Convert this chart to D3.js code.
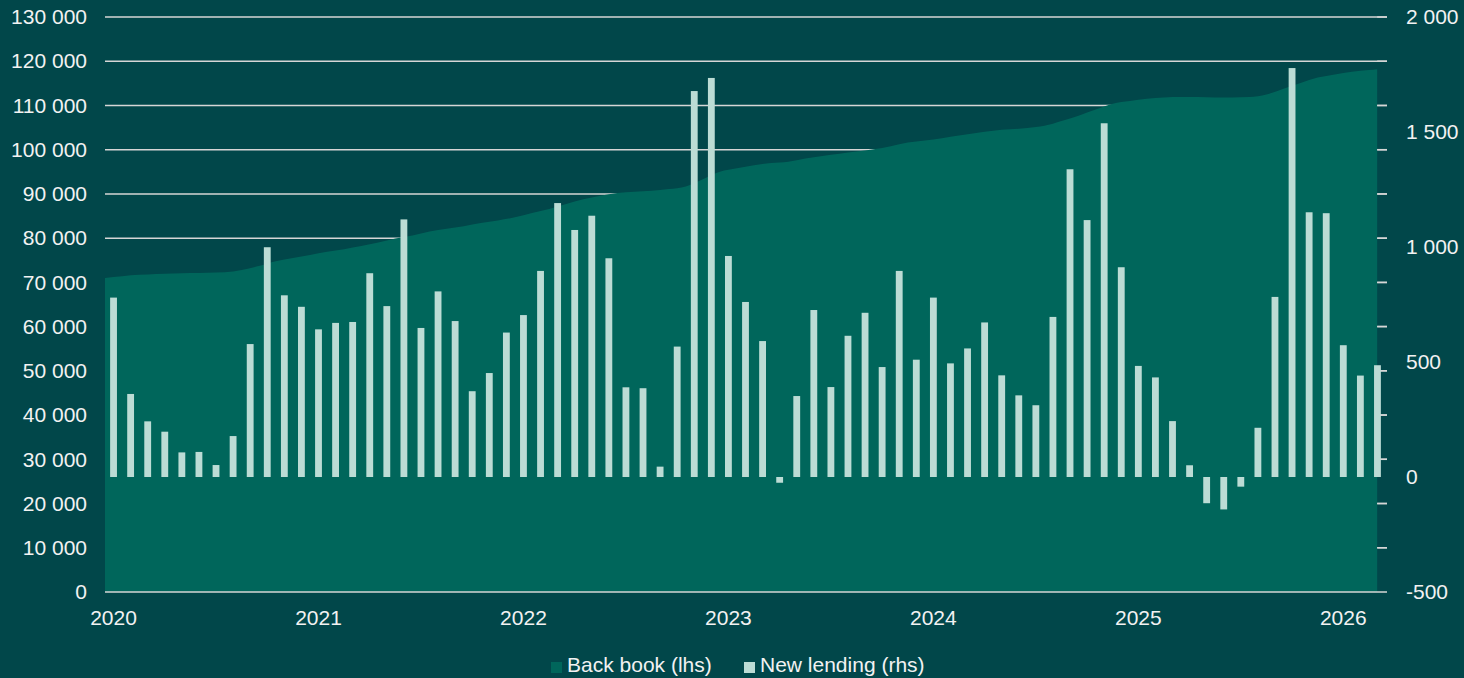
<!DOCTYPE html>
<html>
<head>
<meta charset="utf-8">
<script src="https://cdn.jsdelivr.net/npm/d3@7"></script>
<style>
  html, body { margin: 0; padding: 0; background: #01474a; }
  svg { display: block; }
  text { font-family: "Liberation Sans", Arial, sans-serif; fill: #f2f2f2; }
</style>
</head>
<body>
<svg id="chart" width="1464" height="678"></svg>
<script>
// Back book stock (lhs), month-start readings Jan 2020 - Mar 2026, plus the latest mid-March reading
const backBook = [
  71.0, 71.4, 71.7, 71.9, 72.0, 72.1, 72.2, 72.3, 72.8, 73.7, 74.8, 75.5,
  76.2, 76.9, 77.5, 78.2, 79.0, 79.9, 80.6, 81.5, 82.1, 82.7, 83.4, 84.0,
  84.7, 85.7, 86.6, 87.7, 88.8, 89.6, 90.2, 90.5, 90.7, 91.1, 91.7, 93.3,
  95.0, 95.8, 96.5, 97.0, 97.3, 98.0, 98.6, 99.1, 99.6, 100.1, 100.8, 101.6,
  102.1, 102.6, 103.2, 103.8, 104.3, 104.6, 104.9, 105.4, 106.5, 107.7, 109.1, 110.4,
  111.0, 111.5, 111.8, 111.9, 111.9, 111.8, 111.8, 111.9, 112.5, 113.8, 115.1, 116.3,
  117.0, 117.6, 118.0,
  118.2
].map(v => v * 1000);

// Monthly new lending (rhs), Jan 2020 - Mar 2026
const newLending = [
  780, 361, 242, 197, 107, 109, 52, 178, 578, 999, 790, 740,
  642, 670, 674, 886, 743, 1120, 648, 807, 678, 373, 452, 628,
  704, 896, 1191, 1074, 1136, 951, 390, 386, 45, 567, 1678, 1735,
  961, 761, 591, -25, 352, 726, 391, 614, 714, 478, 896, 510,
  780, 494, 559, 672, 442, 355, 312, 696, 1338, 1117, 1538, 912,
  483, 433, 243, 51, -114, -141, -42, 214, 783, 1778, 1151, 1147,
  573, 441, 486
];

const yearLabels = ["2020", "2021", "2022", "2023", "2024", "2025", "2026"];
const leftTicks = d3.range(0, 130001, 10000);
const rightTicks = [-500, 0, 500, 1000, 1500, 2000];
const seriesNames = ["Back book (lhs)", "New lending (rhs)"];

const colors = {
  bg: "#01474a",
  area: "#00665b",
  bars: "#bcdcd5",
  grid: "#d6d6d6",
  text: "#f2f2f2"
};

const startDate = new Date(2020, 0, 1);
const lendingMonths = d3.timeMonth.range(startDate, new Date(2026, 3, 1));
const backBookDates = d3.timeMonth.range(startDate, new Date(2026, 2, 2))
  .concat([new Date(2026, 2, 16)]);

// fractional month position of a date, counted from Jan 2020
function monthPos(d) {
  const dim = new Date(d.getFullYear(), d.getMonth() + 1, 0).getDate();
  return (d.getFullYear() - 2020) * 12 + d.getMonth() + (d.getDate() - 1) / dim;
}

const plot = { left: 105, right: 1386, top: 17, bottom: 592 };

const x = d3.scaleLinear().domain([0, lendingMonths.length]).range([plot.left, plot.right]);
const xBand = d3.scaleBand()
  .domain(d3.range(lendingMonths.length))
  .range([plot.left, plot.right])
  .paddingInner(0.6)
  .paddingOuter(0.3);
const yL = d3.scaleLinear().domain([0, 130000]).range([plot.bottom, plot.top]);
const yR = d3.scaleLinear().domain([-500, 2000]).range([plot.bottom, plot.top]);

const svg = d3.select("#chart");
svg.append("rect").attr("width", 1464).attr("height", 678).attr("fill", colors.bg);

// horizontal gridlines (left axis)
const leftAxis = d3.axisLeft(yL)
  .tickValues(leftTicks)
  .tickSize(0)
  .tickPadding(18)
  .tickFormat(d => d3.format(",")(d).replace(/,/g, " "));

svg.append("g")
  .selectAll("line")
  .data(leftTicks.filter(t => t > 0))
  .join("line")
  .attr("x1", plot.left).attr("x2", plot.right + 1)
  .attr("y1", d => yL(d)).attr("y2", d => yL(d))
  .attr("stroke", colors.grid)
  .attr("stroke-width", 1.5);

// back book area
const area = d3.area()
  .x((d, i) => x(monthPos(backBookDates[i])))
  .y0(yL(0))
  .y1(d => yL(d))
  .curve(d3.curveMonotoneX);

svg.append("path")
  .datum(backBook)
  .attr("d", area)
  .attr("fill", colors.area);

// right-axis tick stubs that show beyond the area
svg.append("g")
  .selectAll("line")
  .data(leftTicks.filter(t => t > 0))
  .join("line")
  .attr("x1", x(monthPos(backBookDates[backBookDates.length - 1]))).attr("x2", plot.right + 1)
  .attr("y1", d => yL(d)).attr("y2", d => yL(d))
  .attr("stroke", colors.grid)
  .attr("stroke-width", 1.5);

// new lending bars
svg.append("g")
  .selectAll("rect")
  .data(newLending)
  .join("rect")
  .attr("x", (d, i) => xBand(i))
  .attr("width", xBand.bandwidth())
  .attr("y", d => yR(Math.max(0, d)))
  .attr("height", d => Math.abs(yR(d) - yR(0)))
  .attr("fill", colors.bars);

// x baseline
svg.append("line")
  .attr("x1", plot.left).attr("x2", plot.right + 1)
  .attr("y1", plot.bottom).attr("y2", plot.bottom)
  .attr("stroke", colors.grid)
  .attr("stroke-width", 1.5);

// left axis labels
const gL = svg.append("g")
  .attr("transform", `translate(${plot.left},0)`)
  .call(leftAxis);
gL.select(".domain").remove();
gL.selectAll("text")
  .attr("x", -18)
  .style("font-size", "21px")
  .style("font-family", "'Liberation Sans', Arial, sans-serif")
  .attr("fill", colors.text);

// right axis labels
const rightAxis = d3.axisRight(yR)
  .tickValues(rightTicks)
  .tickSize(0)
  .tickFormat(d => d3.format(",")(d).replace(/,/g, " ").replace("−", "-"));
const gR = svg.append("g")
  .attr("transform", `translate(${plot.right},0)`)
  .call(rightAxis);
gR.select(".domain").remove();
gR.selectAll("text")
  .attr("x", 20)
  .style("font-size", "21px")
  .style("font-family", "'Liberation Sans', Arial, sans-serif")
  .attr("fill", colors.text);

// year labels under January bars
svg.append("g")
  .selectAll("text")
  .data(yearLabels)
  .join("text")
  .attr("x", (d, i) => xBand(i * 12) + xBand.bandwidth() / 2)
  .attr("y", 625)
  .attr("text-anchor", "middle")
  .style("font-size", "21px")
  .text(d => d);

// legend
const legend = svg.append("g").attr("transform", "translate(551,662)");
const legendItems = [
  { name: seriesNames[0], color: colors.area, dx: 0 },
  { name: seriesNames[1], color: colors.bars, dx: 193 }
];
const li = legend.selectAll("g").data(legendItems).join("g")
  .attr("transform", d => `translate(${d.dx},0)`);
li.append("rect").attr("width", 11).attr("height", 11).attr("fill", d => d.color);
li.append("text")
  .attr("x", 16).attr("y", 10)
  .style("font-size", "21px")
  .text(d => d.name);
</script>
</body>
</html>
